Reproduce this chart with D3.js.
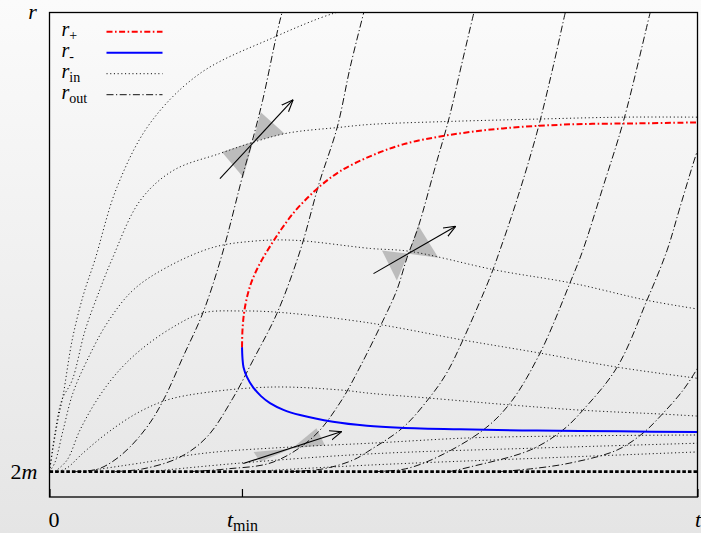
<!DOCTYPE html>
<html>
<head>
<meta charset="utf-8">
<script src="https://cdn.jsdelivr.net/npm/d3@7"></script>
<style>
  html, body { margin: 0; padding: 0; }
  body { width: 701px; height: 533px; overflow: hidden; }
  svg { display: block; }
  svg text { font-family: "Liberation Serif", "DejaVu Serif", serif; fill: #000; }
</style>
</head>
<body>
<div id="chart"></div>
<script>
// axis values (t and r in plot units, 0..100)
const T_MIN = 29.7;
const TWO_M = 5.25;
const xTickValues = [0, T_MIN, 100];
const xTickLabels = [["0", ""], ["t", "min"], ["t", ""]];
const legendLabels = [["r", "+"], ["r", "-"], ["r", "in"], ["r", "out"]];

// apparent horizons
const rPlus = [[29.71,30.93],[29.78,34.43],[30.02,37.94],[30.48,41.24],[31.10,44.12],[32.02,47.01],[33.10,49.69],[34.34,52.37],[35.88,55.46],[37.73,58.76],[39.74,61.65],[41.90,64.33],[44.83,67.22],[49.46,70.31],[54.55,72.78],[61.34,74.64],[69.98,76.08],[80.32,76.91],[90.66,77.11],[100,77.32]];
const rMinus = [[29.71,30.93],[29.78,28.66],[29.94,26.80],[30.48,24.74],[31.40,22.68],[32.64,20.82],[34.03,19.38],[36.19,17.94],[38.66,16.91],[43.75,15.53],[49.00,14.70],[54.09,14.29],[63.35,13.96],[75.23,13.71],[88.04,13.55],[100,13.40]];

// ingoing null rays
const rIn1 = [[0,5.25],[0.5,9.7],[1.3,15.9],[2.1,21.0],[3.5,32.4],[5.2,41.6],[7.0,48.9],[10.4,63.9],[15.5,77.1],[23.2,87.4],[34.5,94.8],[43.8,99.8],[48,101]];
const rIn2 = [[0,5.25],[0.8,12.8],[1.9,20.0],[3.5,24.1],[5.5,34.4],[7.8,42.9],[9.6,48.9],[14.0,61.2],[19.1,67.4],[26.3,70.9],[31.4,73.2],[36.7,75.1],[44.8,76.3],[49.5,76.9],[61.3,77.5],[75.2,78.0],[88.6,78.4],[100,78.4]];
const rIn3 = [[0,5.25],[0.8,7.0],[2.1,13.8],[3.6,21.4],[5.8,28.2],[8.9,35.9],[12.9,42.7],[18.1,47.4],[25.2,51.5],[31.4,52.8],[37.6,53.0],[49.5,51.3],[55.6,50.7],[69.0,46.8],[80.8,44.1],[92.2,40.6],[100,38.8]];
const rIn4 = [[0.85,5.25],[2.7,7.6],[4.7,13.8],[7.3,20.0],[10.4,25.6],[14.0,30.3],[19.1,35.1],[23.7,38.0],[29.4,38.4],[35.6,38.1],[49.5,35.9],[63.8,32.4],[75.7,29.7],[87.6,26.8],[100,24.5]];
const rIn5 = [[1.3,5.25],[2.7,6.0],[5.2,9.1],[8.9,13.2],[13.5,17.3],[18.1,20.0],[24.3,21.6],[34.5,22.7],[44.8,22.1],[49.5,21.4],[58.7,20.4],[71.1,19.0],[82.3,17.9],[94.7,17.1],[100,16.7]];
const rIn6 = [[5.5,5.25],[8.0,5.8],[14.0,7.0],[24.3,9.1],[37.1,10.3],[49.5,11.1],[64.9,12.2],[80.3,12.6],[100,12.8]];
const rIn7 = [[15.5,5.25],[29.4,7.0],[49.5,8.9],[75.2,10.1],[100,11.1]];
const rIn8 = [[30.9,5.25],[49.5,6.6],[75.2,8.0],[100,9.3]];

// outgoing null rays
const rOut1 = [[3.9,5.25],[7.3,5.7],[9.6,7.2],[12.4,10.3],[15.5,15.3],[17.8,20.6],[20.6,28.9],[23.7,38.1],[26.6,49.9],[29.9,66.8],[31.2,73.0],[32.9,81.9],[35.1,95.7],[35.9,100],[36.2,101]];
const rOut2 = [[10.1,5.25],[14.4,5.8],[20.1,8.2],[24.3,12.4],[28.3,20.4],[31.4,28.2],[35.1,37.9],[38.7,50.9],[41.6,64.7],[44.4,76.3],[46.4,88.7],[48.5,100],[48.7,101]];
const rOut3 = [[21.7,5.25],[27.4,5.8],[34.5,7.2],[40.7,12.4],[44.8,19.4],[47.9,26.8],[51.5,36.5],[53.6,42.7],[55.2,49.5],[56.9,55.7],[59.5,68.0],[61.7,78.4],[63.5,88.7],[65.5,100],[65.7,101]];
const rOut4 = [[37.1,5.25],[42.2,5.8],[46.8,7.6],[49.5,9.7],[54.6,14.4],[58.7,20.6],[61.3,25.6],[63.8,32.4],[68.0,45.4],[69.5,50.9],[72.1,61.2],[75.2,75.1],[77.7,88.7],[79.6,100],[79.8,101]];
const rOut5 = [[50.2,5.25],[54.9,5.8],[59.8,8.2],[66.9,13.8],[71.1,19.4],[75.7,29.7],[80.3,44.1],[82.3,50.9],[85.4,63.9],[88.6,77.7],[92.7,100],[92.9,101]];
const rOut6 = [[61.8,5.25],[64.9,6.2],[74.2,9.7],[79.2,13.8],[82.3,17.9],[87.6,26.8],[92.2,40.6],[95.3,50.9],[97.3,59.8],[100,71.5],[100.5,73]];
const rOut7 = [[69.5,5.25],[74.2,5.8],[80.3,7.0],[87.6,9.7],[91.6,13.2],[94.7,17.3],[97.8,22.1],[100.1,26.8],[100.6,28]];

const horizon = [[0, TWO_M], [100, TWO_M]];

// light cones: apex, future edges, past edges, and the tangent vector
const coneCenters = [[31.4,73.3],[55.4,50.2],[37.4,10.0]];
const coneFutureOut = [[32.6,79.4],[56.9,56.1],[41.2,14.2]];
const coneFutureIn = [[36.3,75.0],[60.0,49.4],[42.5,10.7]];
const conePastOut = [[29.9,66.0],[53.6,44.7],[32.5,7.3]];
const conePastIn = [[26.6,71.2],[51.3,50.9],[31.5,9.3]];
const arrowStarts = [[26.3,65.7],[50.0,46.1],[29.9,6.9]];
const arrowEnds = [[37.6,82.0],[62.7,55.9],[45.1,13.5]];

const SERIF = '"Liberation Serif", "DejaVu Serif", serif';

class HorizonChart {
  constructor(parentElement) {
    this.parentElement = parentElement;
    this.initViz();
  }

  initViz() {
    let viz = this;

    viz.margin = { top: 12.5, right: 3.5, bottom: 36, left: 49.5 };
    viz.width = 701 - viz.margin.left - viz.margin.right;
    viz.height = 533 - viz.margin.top - viz.margin.bottom;

    const root = d3
      .select("#" + viz.parentElement)
      .append("svg")
      .attr("width", 701)
      .attr("height", 533);

    const defs = root.append("defs");
    const grad = defs
      .append("linearGradient")
      .attr("id", "bg")
      .attr("x1", 0).attr("y1", 0).attr("x2", 0).attr("y2", 1);
    grad.append("stop").attr("offset", "0%").attr("stop-color", "#fbfbfb");
    grad.append("stop").attr("offset", "100%").attr("stop-color", "#e5e5e5");

    defs
      .append("clipPath")
      .attr("id", "plot-clip")
      .append("rect")
      .attr("width", viz.width)
      .attr("height", viz.height);

    defs
      .append("marker")
      .attr("id", "arrowhead")
      .attr("viewBox", "0 -5 10 10")
      .attr("refX", 10)
      .attr("refY", 0)
      .attr("markerUnits", "userSpaceOnUse")
      .attr("markerWidth", 12)
      .attr("markerHeight", 12)
      .attr("orient", "auto")
      .append("path")
      .attr("d", "M0,-4L10,0L0,4")
      .attr("fill", "none")
      .attr("stroke", "#000")
      .attr("stroke-width", 0.9);

    root.append("rect").attr("width", 701).attr("height", 533).attr("fill", "url(#bg)");

    viz.svg = root
      .append("g")
      .attr("transform", `translate(${viz.margin.left},${viz.margin.top})`);

    viz.x = d3.scaleLinear().domain([0, 100]).range([0, viz.width]);
    viz.y = d3.scaleLinear().domain([0, 100]).range([viz.height, 0]);

    viz.line = d3
      .line()
      .x((d) => viz.x(d[0]))
      .y((d) => viz.y(d[1]))
      .curve(d3.curveCatmullRom.alpha(0.5));

    viz.plot = viz.svg.append("g").attr("clip-path", "url(#plot-clip)");

    viz.drawCones();
    viz.drawCurves();
    viz.drawAxes();
    viz.drawLegend();
  }

  drawCones() {
    let viz = this;
    const pt = (d) => [viz.x(d[0]), viz.y(d[1])];

    const tris = [];
    coneCenters.forEach((c, i) => {
      tris.push([c, coneFutureOut[i], coneFutureIn[i]]);
      tris.push([c, conePastOut[i], conePastIn[i]]);
    });

    viz.plot
      .selectAll(".cone")
      .data(tris)
      .enter()
      .append("path")
      .attr("class", "cone")
      .attr("d", (d) => "M" + d.map(pt).join("L") + "Z")
      .attr("fill", "#bcbcbc");
  }

  drawCurves() {
    let viz = this;

    const dotted = { stroke: "#111", width: 1, dash: "1.1,2.6" };
    const dashDot = { stroke: "#111", width: 1, dash: "7,2.5,1.2,2.5" };

    const series = [
      ...[rIn1, rIn2, rIn3, rIn4, rIn5, rIn6, rIn7, rIn8].map((d) => ({ data: d, s: dotted })),
      ...[rOut1, rOut2, rOut3, rOut4, rOut5, rOut6, rOut7].map((d) => ({ data: d, s: dashDot })),
      { data: horizon, s: { stroke: "#000", width: 2.7, dash: "3.6,2" } },
      { data: rMinus, s: { stroke: "#0000ff", width: 2, dash: null } },
      { data: rPlus, s: { stroke: "#ff0000", width: 2, dash: "6,2.5,1.6,2.5" } }
    ];

    viz.plot
      .selectAll(".curve")
      .data(series)
      .enter()
      .append("path")
      .attr("class", "curve")
      .attr("d", (d) => viz.line(d.data))
      .attr("fill", "none")
      .attr("stroke", (d) => d.s.stroke)
      .attr("stroke-width", (d) => d.s.width)
      .attr("stroke-dasharray", (d) => d.s.dash);

    viz.plot
      .selectAll(".vector")
      .data(arrowStarts)
      .enter()
      .append("line")
      .attr("class", "vector")
      .attr("x1", (d) => viz.x(d[0]))
      .attr("y1", (d) => viz.y(d[1]))
      .attr("x2", (d, i) => viz.x(arrowEnds[i][0]))
      .attr("y2", (d, i) => viz.y(arrowEnds[i][1]))
      .attr("stroke", "#000")
      .attr("stroke-width", 1.1)
      .attr("marker-end", "url(#arrowhead)");
  }

  drawAxes() {
    let viz = this;

    // x axis: inward tick at t_min, labels below
    const xAxis = viz.svg
      .append("g")
      .attr("class", "x-axis")
      .attr("transform", `translate(0,${viz.height})`)
      .call(
        d3.axisBottom(viz.x)
          .tickValues(xTickValues)
          .tickSizeInner(-8)
          .tickSizeOuter(0)
          .tickPadding(14)
          .tickFormat("")
      );
    xAxis.attr("font-family", SERIF);
    xAxis.select(".domain").remove();
    xAxis.selectAll(".tick line").attr("stroke", "#000").attr("stroke-width", 1.2);
    xAxis
      .selectAll(".tick text")
      .style("font-family", SERIF)
      .style("font-size", "22px")
      .attr("dx", (d, i) => (i === 0 ? 4 : 0))
      .each(function (d, i) {
        const lbl = xTickLabels[i];
        const t = d3.select(this);
        t.append("tspan")
          .style("font-style", lbl[0] === "0" ? "normal" : "italic")
          .text(lbl[0]);
        if (lbl[1]) {
          t.append("tspan")
            .style("font-size", "16px")
            .attr("dy", "0.28em")
            .text(lbl[1]);
        }
      });

    // y axis: only the 2m level
    const yAxis = viz.svg
      .append("g")
      .attr("class", "y-axis")
      .call(d3.axisLeft(viz.y).tickValues([TWO_M]).tickSize(0).tickPadding(12).tickFormat(""));
    yAxis.attr("font-family", SERIF);
    yAxis.select(".domain").remove();
    yAxis
      .selectAll(".tick text")
      .style("font-family", SERIF)
      .style("font-size", "22px")
      .each(function () {
        const t = d3.select(this);
        t.append("tspan").text("2");
        t.append("tspan").style("font-style", "italic").text("m");
      });

    viz.svg
      .append("text")
      .attr("x", viz.x(0) - 17)
      .attr("y", viz.y(100) + 6)
      .attr("text-anchor", "middle")
      .style("font-size", "22px")
      .style("font-style", "italic")
      .text("r");

    viz.svg
      .append("rect")
      .attr("width", viz.width)
      .attr("height", viz.height)
      .attr("fill", "none")
      .attr("stroke", "#000")
      .attr("stroke-width", 1.3);
  }

  drawLegend() {
    let viz = this;

    const legendStyles = [
      { stroke: "#ff0000", width: 2, dash: "6,2.5,1.6,2.5" },
      { stroke: "#0000ff", width: 2, dash: null },
      { stroke: "#111", width: 1, dash: "1.1,2.6" },
      { stroke: "#111", width: 1, dash: "7,2.5,1.2,2.5" }
    ];

    const rows = viz.svg
      .append("g")
      .attr("class", "legend")
      .selectAll("g")
      .data(legendLabels)
      .enter()
      .append("g")
      .attr("transform", (d, i) => `translate(0,${19.2 + i * 21})`);

    rows
      .append("line")
      .attr("x1", 57)
      .attr("x2", 113)
      .attr("stroke", (d, i) => legendStyles[i].stroke)
      .attr("stroke-width", (d, i) => legendStyles[i].width)
      .attr("stroke-dasharray", (d, i) => legendStyles[i].dash);

    const txt = rows
      .append("text")
      .attr("x", 12)
      .attr("y", 4.5)
      .style("font-size", "20px");
    txt.append("tspan").style("font-style", "italic").text((d) => d[0]);
    txt
      .append("tspan")
      .style("font-size", "14px")
      .attr("dy", 4)
      .text((d) => d[1]);
  }
}

new HorizonChart("chart");
</script>
</body>
</html>
